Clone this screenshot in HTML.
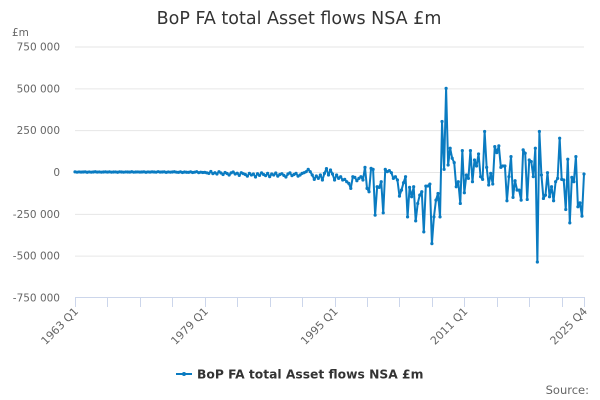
<!DOCTYPE html>
<html><head><meta charset="utf-8">
<style>
html,body{margin:0;padding:0;background:#fff;}
svg{display:block;font-family:"DejaVu Sans","Liberation Sans",sans-serif;}
</style></head>
<body>
<svg id="chart" width="600" height="400" viewBox="0 0 600 400" xmlns="http://www.w3.org/2000/svg">
<text x="299" y="24" text-anchor="middle" font-size="17.5" fill="#333">BoP FA total Asset flows NSA £m</text>
<text x="12" y="36" font-size="10.5" fill="#666">£m</text>
<g id="grid"></g>
<g id="yticks"></g>
<line x1="75" y1="297.5" x2="584" y2="297.5" stroke="#ccd6eb" stroke-width="1"/>
<g id="xticks"></g>
<g id="series"></g>
<g>
<line x1="176" y1="374" x2="192" y2="374" stroke="#0a7bc1" stroke-width="2"/>
<circle cx="184" cy="374" r="2" fill="#0a7bc1"/>
<text x="197" y="378.5" font-size="12.3" font-weight="bold" fill="#333">BoP FA total Asset flows NSA £m</text>
</g>
<text x="589" y="394" text-anchor="end" font-size="11.5" fill="#666">Source:</text>
</svg>
<script>
const yTickValues=[750000,500000,250000,0,-250000,-500000,-750000];
const yTickLabels=["750 000","500 000","250 000","0","-250 000","-500 000","-750 000"];
const xTickLabels=["1963 Q1","1979 Q1","1995 Q1","2011 Q1","2025 Q4"];
const xTickIndex=[0,64,128,192,251];
const values1963to1978=[1000,-1000,500,-500,0,1000,-1500,500,-1000,0,1500,-500,500,-1000,0,1000,
-500,1000,-1000,0,500,-1500,1000,0,-1000,500,0,-500,1500,-1000,0,500,
-500,0,1000,-1500,500,-500,1000,0,-1000,2000,-500,0,1000,-2000,500,-1000,
0,1500,-1000,-2000,1000,-3000,0,-1500,-2000,1000,-3000,-1000,2000,-4000,-1000,-3000];
const values1979to1990=[-2000,-5000,-8000,3000,-10000,-4000,-12000,2000,-6000,-15000,-3000,-9000,
-18000,-5000,0,-12000,-7000,-20000,-4000,-10000,-15000,-25000,-8000,-18000,
-12000,-30000,-10000,-20000,-5000,-15000,-22000,-8000,-28000,-12000,-18000,-6000,
-25000,-15000,-10000,-20000,-30000,-12000,-5000,-22000,-15000,-8000,-25000];
const values1990to2006=[-18000,-8000,-4000,2000,16000,2000,-18000,-44000,-24000,-38000,-18000,-48000,-8000,20000,-18000,12000,-12000,
-48000,-18000,-38000,-28000,-48000,-44000,-58000,-68000,-98000,-28000,-32000,-52000,-38000,-28000,-48000,28000,
-98000,-118000,22000,16000,-258000,-88000,-92000,-58000,-244000,16000,2000,8000,-4000,-38000,-28000,-48000,
-144000,-108000,-64000,-28000,-268000,-92000,-148000,-88000,-292000,-188000,-138000,-118000,-358000,-84000,-84000,-72000];
const values2007to2025=[-428000,-268000,-168000,-128000,-268000,302000,16000,500000,42000,142000,82000,56000,-88000,-58000,-188000,128000,
-124000,-18000,-38000,128000,-58000,72000,36000,108000,-28000,-44000,242000,28000,-78000,-8000,-72000,152000,
116000,156000,28000,36000,36000,-172000,-28000,92000,-152000,-52000,-108000,-108000,-168000,132000,112000,-164000,
72000,62000,-28000,142000,-538000,242000,-18000,-158000,-138000,-4000,-148000,-88000,-172000,-58000,-38000,202000,
-44000,-48000,-224000,76000,-304000,-32000,-58000,92000,-208000,-184000,-264000,-12000];
const values=values1963to1978.concat(values1979to1990,values1990to2006,values2007to2025);
const NS="http://www.w3.org/2000/svg";
const X0=75,X1=584,Y0=172,YPER=125.5/750000;
function xs(i){return X0+i*(X1-X0)/(values.length-1);}
function ys(v){return Y0-v*YPER;}
const grid=document.getElementById('grid'),yt=document.getElementById('yticks'),xt=document.getElementById('xticks'),ser=document.getElementById('series');
yTickValues.forEach((v,k)=>{
 if(v!==-750000){const l=document.createElementNS(NS,'line');
 
 
 l.setAttribute('x1',X0);l.setAttribute('x2',X1);l.setAttribute('y1',ys(v)+0.5);l.setAttribute('y2',ys(v)+0.5);l.setAttribute('stroke','#e6e6e6');grid.appendChild(l);}
 const t=document.createElementNS(NS,'text');
 
 
 t.setAttribute('x',60);t.setAttribute('y',ys(v)+4);t.setAttribute('text-anchor','end');t.setAttribute('font-size','10.5');t.setAttribute('fill','#666');t.textContent=yTickLabels[k];yt.appendChild(t);
});
for(let i=0;i<values.length;i+=16){
 const x=Math.round(xs(i))+0.5;const l=document.createElementNS(NS,'line');
 
 
 l.setAttribute('x1',x);l.setAttribute('x2',x);l.setAttribute('y1',297);l.setAttribute('y2',307);l.setAttribute('stroke','#ccd6eb');xt.appendChild(l);
}
{const x=Math.round(xs(251))+0.5;const l=document.createElementNS(NS,'line');
 
 
 l.setAttribute('x1',x);l.setAttribute('x2',x);l.setAttribute('y1',297);l.setAttribute('y2',307);l.setAttribute('stroke','#ccd6eb');xt.appendChild(l);}
xTickLabels.forEach((s,k)=>{
 const x=xs(xTickIndex[k])+4,y=312;const t=document.createElementNS(NS,'text');
 
 
 t.setAttribute('x',x);t.setAttribute('y',y);t.setAttribute('text-anchor','end');t.setAttribute('font-size','11');t.setAttribute('fill','#666');
 t.setAttribute('transform','rotate(-45 '+x+' '+y+')');t.textContent=s;xt.appendChild(t);
});
let d='';values.forEach((v,i)=>{d+=(i?'L':'M')+xs(i).toFixed(2)+' '+ys(v).toFixed(2);});
const p=document.createElementNS(NS,'path');


p.setAttribute('d',d);p.setAttribute('fill','none');p.setAttribute('stroke','#0a7bc1');p.setAttribute('stroke-width','2');p.setAttribute('stroke-linejoin','round');ser.appendChild(p);
values.forEach((v,i)=>{const c=document.createElementNS(NS,'circle');
 
 
 c.setAttribute('cx',xs(i));c.setAttribute('cy',ys(v));c.setAttribute('r','1.6');c.setAttribute('fill','#0a7bc1');ser.appendChild(c);});
</script>
</body></html>
